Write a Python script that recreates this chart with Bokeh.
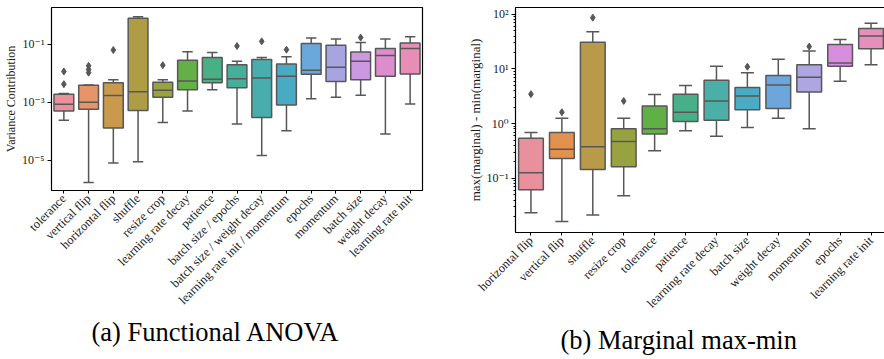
import numpy as np
from bokeh.plotting import figure
from bokeh.layouts import row
from bokeh.models import Range1d, FixedTicker, Title, CustomJSTickFormatter
from bokeh.embed import file_html
from bokeh.resources import INLINE

FONT = "'Liberation Serif', 'DejaVu Serif', serif"
GRAY = "#575757"
TXT = "#1a1a1a"

# ---------------- (a) Functional ANOVA ----------------
a_names = ["tolerance", "vertical flip", "horizontal flip", "shuffle", "resize crop",
           "learning rate decay", "patience", "batch size / epochs",
           "batch size / weight decay", "learning rate init / momentum", "epochs",
           "momentum", "batch size", "weight decay", "learning rate init"]
a_colors = ["#E8919C", "#E6946A", "#C99A4B", "#AF9D45", "#99A33F", "#64B047", "#48B084",
            "#47AE9A", "#48ADAC", "#49AAC3", "#6AA7DA", "#A6A5E0", "#CB98E1", "#DD8DCC", "#E68EB5"]
a_whi = [2.0e-3, 3.98e-3, 6.0e-3, 0.89, 6.0e-3, 5.5e-2, 5.2e-2, 2.6e-2, 3.5e-2, 3.7e-2,
         0.166, 0.151, 0.115, 0.151, 0.182]
a_q3 = [1.9e-3, 3.9e-3, 4.7e-3, 0.79, 4.9e-3, 2.8e-2, 3.5e-2, 1.95e-2, 3.0e-2, 2.1e-2,
        0.107, 9.3e-2, 5.4e-2, 7.1e-2, 0.11]
a_med = [8.5e-4, 1.0e-3, 1.7e-3, 2.3e-3, 2.6e-3, 5.4e-3, 6.2e-3, 6.5e-3, 6.9e-3, 7.9e-3,
         1.26e-2, 1.6e-2, 2.6e-2, 4.1e-2, 7.1e-2]
a_q1 = [5.0e-4, 5.8e-4, 1.3e-4, 5.2e-4, 1.5e-3, 2.7e-3, 4.7e-3, 3.2e-3, 3.0e-4, 8.1e-4,
        9.3e-3, 5.2e-3, 6.0e-3, 7.9e-3, 9.5e-3]
a_wlo = [2.4e-4, 1.7e-6, 8.1e-6, 8.9e-6, 2.0e-4, 5.0e-4, 2.7e-3, 1.8e-4, 1.45e-5, 1.05e-4,
         1.32e-3, 1.48e-3, 1.74e-3, 8.1e-5, 8.7e-4]
a_out_cat = [1, 1, 2, 2, 2, 3, 5, 8, 9, 10, 13]
a_out_val = [1.15e-2, 4.2e-3, 1.8e-2, 1.35e-2, 1.05e-2, 6.3e-2, 1.9e-2, 8.7e-2, 0.126, 6.5e-2, 0.17]

# ---------------- (b) Marginal max-min ----------------
b_names = ["horizontal flip", "vertical flip", "shuffle", "resize crop", "tolerance",
           "patience", "learning rate decay", "batch size", "weight decay", "momentum",
           "epochs", "learning rate init"]
b_colors = ["#E8919C", "#E2914F", "#B89A48", "#98A240", "#5FB146", "#48B089", "#4AAFA6",
            "#4AABC4", "#6DA6DA", "#ADA6E0", "#D78EDC", "#E68EBC"]
b_whi = [0.69, 1.26, 48.0, 1.26, 3.4, 5.0, 11.2, 8.5, 15.1, 21.4, 34.7, 69.0]
b_q3 = [0.54, 0.69, 31.0, 0.81, 2.1, 3.47, 6.2, 4.6, 7.6, 12.0, 28.2, 55.0]
b_med = [0.126, 0.34, 0.38, 0.47, 0.81, 1.62, 2.6, 3.2, 5.1, 7.1, 12.9, 40.0]
b_q1 = [0.062, 0.23, 0.145, 0.162, 0.65, 1.1, 1.15, 1.8, 1.9, 3.8, 11.2, 23.4]
b_wlo = [0.0234, 0.0162, 0.0214, 0.048, 0.32, 0.74, 0.59, 0.85, 1.26, 0.81, 6.0, 12.0]
b_out_cat = [1, 2, 3, 4, 8, 10]
b_out_val = [3.47, 1.62, 87.0, 2.6, 11.0, 25.7]

SUP = CustomJSTickFormatter(code="""
const e = Math.round(Math.log10(tick));
const m = {'-':'\u207b','0':'\u2070','1':'\u00b9','2':'\u00b2','3':'\u00b3','4':'\u2074',
           '5':'\u2075','6':'\u2076','7':'\u2077','8':'\u2078','9':'\u2079'};
return '10' + String(e).split('').map(c => m[c]).join('');
""")


def panel(names, colors, whi, q3, med, q1, wlo, out_cat, out_val, *, fw, fh,
          bl, br, bt, bb, ylog, major, minor, ylabel, ylabel_size, ylabel_standoff,
          caption, cap_offset, cap_standoff):
    n = len(names)
    x = np.arange(1, n + 1)
    p = figure(frame_width=fw, frame_height=fh, y_axis_type="log",
               x_range=Range1d(0.5, n + 0.5),
               y_range=Range1d(10 ** ylog[0], 10 ** ylog[1]),
               output_backend="svg", toolbar_location=None,
               min_border_left=bl, min_border_right=br, min_border_top=bt,
               min_border_bottom=bb)
    p.xgrid.visible = False
    p.ygrid.visible = False
    p.outline_line_color = "black"
    p.outline_line_alpha = 1.0
    p.outline_line_width = 1.2
    p.background_fill_color = "white"
    p.border_fill_color = "white"

    whi = np.array(whi); q3 = np.array(q3); med = np.array(med)
    q1 = np.array(q1); wlo = np.array(wlo)
    cap = 0.21
    p.segment(x0=x, y0=q3, x1=x, y1=whi, line_color=GRAY, line_width=1.5)
    p.segment(x0=x, y0=q1, x1=x, y1=wlo, line_color=GRAY, line_width=1.5)
    p.segment(x0=x - cap, y0=whi, x1=x + cap, y1=whi, line_color=GRAY, line_width=1.5)
    p.segment(x0=x - cap, y0=wlo, x1=x + cap, y1=wlo, line_color=GRAY, line_width=1.5)
    p.vbar(x=x, bottom=q1, top=q3, width=0.8, fill_color=colors, line_color=GRAY,
           line_width=1.5)
    p.segment(x0=x - 0.4, y0=med, x1=x + 0.4, y1=med, line_color=GRAY, line_width=1.5)
    p.scatter(x=np.array(out_cat), y=np.array(out_val), marker="diamond", size=7,
              fill_color=GRAY, line_color=GRAY)

    ax = p.xaxis[0]
    ax.ticker = FixedTicker(ticks=[int(v) for v in x])
    ax.major_label_overrides = {int(i + 1): nm for i, nm in enumerate(names)}
    ax.major_label_orientation = np.pi / 4
    ax.major_tick_in = 0
    ax.major_tick_out = 3
    ax.minor_tick_out = 0
    ax.axis_line_color = None
    ax.major_tick_line_color = "black"
    ax.major_label_standoff = 3
    ax.major_label_text_font = FONT
    ax.major_label_text_font_size = "12.5px"
    ax.major_label_text_color = TXT

    ay = p.yaxis[0]
    ay.ticker = FixedTicker(ticks=major, minor_ticks=minor)
    ay.formatter = SUP
    ay.major_tick_in = 0
    ay.major_tick_out = 4
    ay.minor_tick_in = 0
    ay.minor_tick_out = 2
    ay.axis_line_color = None
    ay.major_tick_line_color = "black"
    ay.minor_tick_line_color = "black"
    ay.major_label_standoff = 3
    ay.major_label_text_font = FONT
    ay.major_label_text_font_size = "12px"
    ay.major_label_text_color = TXT
    ay.axis_label = ylabel
    ay.axis_label_standoff = ylabel_standoff
    ay.axis_label_text_font = FONT
    ay.axis_label_text_font_size = ylabel_size
    ay.axis_label_text_font_style = "normal"
    ay.axis_label_text_color = TXT

    p.add_layout(Title(text=caption, align="left", offset=cap_offset,
                       standoff=cap_standoff, text_font=FONT, text_font_size="26.5px",
                       text_font_style="normal", text_color="black"), "below")
    return p


pa = panel(a_names, a_colors, a_whi, a_q3, a_med, a_q1, a_wlo, a_out_cat, a_out_val,
           fw=371, fh=183, bl=48, br=21, bt=7, bb=169, ylog=(-6.042, 0.268),
           major=[1e-5, 1e-3, 1e-1], minor=[],
           ylabel="Variance Contribution", ylabel_size="12px", ylabel_standoff=1,
           caption="(a) Functional ANOVA", cap_offset=40, cap_standoff=1)

b_minor = [m * 10.0 ** d for d in range(-2, 3) for m in range(2, 10)]
pb = panel(b_names, b_colors, b_whi, b_q3, b_med, b_q1, b_wlo, b_out_cat, b_out_val,
           fw=371, fh=225, bl=72, br=1, bt=7, bb=127, ylog=(-1.991, 2.125),
           major=[0.1, 1.0, 10.0, 100.0], minor=b_minor,
           ylabel="max(marginal) - min(marginal)", ylabel_size="13px", ylabel_standoff=1,
           caption="(b) Marginal max-min", cap_offset=45, cap_standoff=9)

layout = row(pa, pb)
open("out.html", "w").write(file_html(layout, INLINE))
